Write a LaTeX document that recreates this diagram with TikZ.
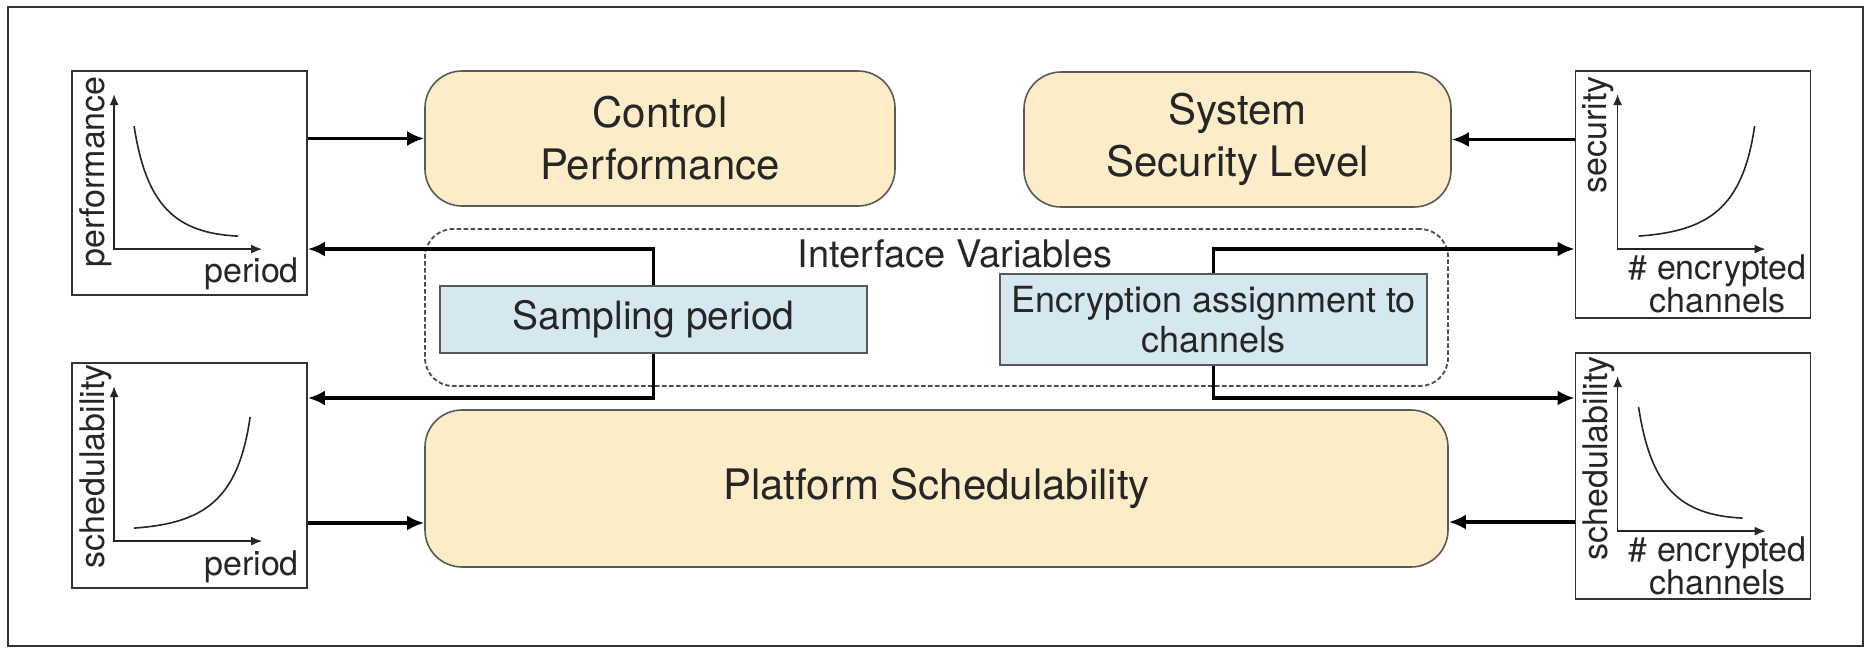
\documentclass[tikz,border=0pt]{standalone}
\usepackage{fontspec}
\setmainfont{TeX Gyre Heros}
\usetikzlibrary{arrows.meta}

\definecolor{boxyellow}{RGB}{252,236,200}
\definecolor{boxblue}{RGB}{214,232,239}

\newcommand{\boxfont}{\fontsize{42}{52}\selectfont}
\newcommand{\varfont}{\fontsize{38}{44}\selectfont}
\newcommand{\axisfont}{\fontsize{34}{29}\selectfont}

\pgfdeclarelayer{back}
\pgfsetlayers{back,main}

\begin{document}
\begin{tikzpicture}[x=1pt,y=-1pt,
  plotbox/.style={draw=black!80,line width=1.8pt,minimum width=235,inner sep=0pt},
  curve/.style={line width=1.6pt,black!85},
  axis/.style={line width=1.6pt,black!85,>={Latex[length=11pt,width=9pt]}},
  bigbox/.style={draw=black!65,line width=1.6pt,fill=boxyellow,rounded corners=37pt,align=center,font=\boxfont,text=black!85},
  varbox/.style={draw=black!65,line width=2pt,fill=boxblue,inner sep=0pt,align=center,text=black!85},
  link/.style={line width=3.3pt,>={Latex[length=17pt,width=15pt]}},
  ylab/.style={rotate=90,anchor=east,inner sep=0pt,font=\axisfont,text=black!85},
  xlab/.style={anchor=base east,inner sep=0pt,font=\axisfont,text=black!85},
  chlab/.style={anchor=north,inner sep=0pt,align=center,font=\axisfont,text=black!85}]

\useasboundingbox (0,0) rectangle (1866,648);
\draw[line width=2.8pt,black!80] (8,7) rectangle (1863,646);

% small plots at the four sides
\node[plotbox,minimum height=224] (perfplot) at (189.5,183) {};
\node[plotbox,minimum height=247] (secplot) at (1693,194.5) {};
\node[plotbox,minimum height=225] (schedl) at (189.5,475.5) {};
\node[plotbox,minimum height=246] (schedr) at (1693,476) {};

\begin{scope}[shift={(perfplot.north west)}]
  \draw[axis,<->] (43,24) -- (43,179) -- (191,179);
  \draw[curve] (63,56) .. controls (75,134) and (103,163) .. (167,166);
  \node[ylab] (perfy) at (25,6) {performance};
  \node[xlab] (perfx) at (228,212) {period};
\end{scope}

\begin{scope}[shift={(secplot.north west)}]
  \draw[axis,<->] (43,24) -- (43,179) -- (191,179);
  \draw[curve] (64,166) .. controls (133,161) and (168,139) .. (180,56);
  \node[ylab] (secy) at (24,6) {security};
  \node[chlab] (secx) at (143,184) {\# encrypted\\channels};
\end{scope}

\begin{scope}[shift={(schedl.north west)}]
  \draw[axis,<->] (43,24) -- (43,179) -- (191,179);
  \draw[curve] (63,166) .. controls (132,161) and (167,139) .. (179,55);
  \node[ylab] (schedly) at (25,2) {schedulability};
  \node[xlab] (schedlx) at (228,213) {period};
\end{scope}

\begin{scope}[shift={(schedr.north west)}]
  \draw[axis,<->] (43,24) -- (43,179) -- (191,179);
  \draw[curve] (64,55) .. controls (76,134) and (104,163) .. (168,166);
  \node[ylab] (schedry) at (24,4) {schedulability};
  \node[chlab] (schedrx) at (143,184) {\# encrypted\\channels};
\end{scope}

% the three design concerns
\node[bigbox,minimum width=470,minimum height=135] (ctrl) at (660,138.5) {Control\\Performance};
\node[bigbox,minimum width=427,minimum height=135] (sec) at (1237.5,139.5) {System\\Security Level};
\node[bigbox,minimum width=1023,minimum height=157] (plat) at (936.5,488.5) {Platform Schedulability};

% interface variables
\node[font=\varfont,text=black!85] (iflab) at (955,254) {Interface Variables};
\node[varbox,minimum width=427,minimum height=67,font=\fontsize{39}{44}\selectfont] (samp) at (653.5,319.5) {Sampling period};
\node[varbox,minimum width=427,minimum height=91,font=\fontsize{36}{40}\selectfont] (encr) at (1213.5,319.5) {Encryption assignment to\\channels};

\begin{pgfonlayer}{back}
  \node[draw=black!70,line width=1.8pt,dash pattern=on 4.5pt off 2.5pt,rounded corners=28pt,minimum width=1023,minimum height=157] (ifvars) at (936.5,307.5) {};

  \draw[link,->] (perfplot.east |- ctrl.west) -- (ctrl.west);
  \draw[link,->] (secplot.west |- sec.east) -- (sec.east);
  \draw[link,->] (schedl.east |- 0,523) -- (plat.west |- 0,523);
  \draw[link,->] (schedr.west |- 0,522) -- (plat.east |- 0,522);

  \coordinate (samptop) at (samp |- 0,249);
  \coordinate (sampbot) at (samp |- 0,398);
  \draw[link,<->] (perfplot.east |- samptop) -- (samptop) -- (sampbot) -- (schedl.east |- sampbot);

  \coordinate (enctop) at (encr |- 0,249);
  \coordinate (encbot) at (encr |- 0,398);
  \draw[link,<->] (secplot.west |- enctop) -- (enctop) -- (encbot) -- (schedr.west |- encbot);
\end{pgfonlayer}

\end{tikzpicture}
\end{document}
